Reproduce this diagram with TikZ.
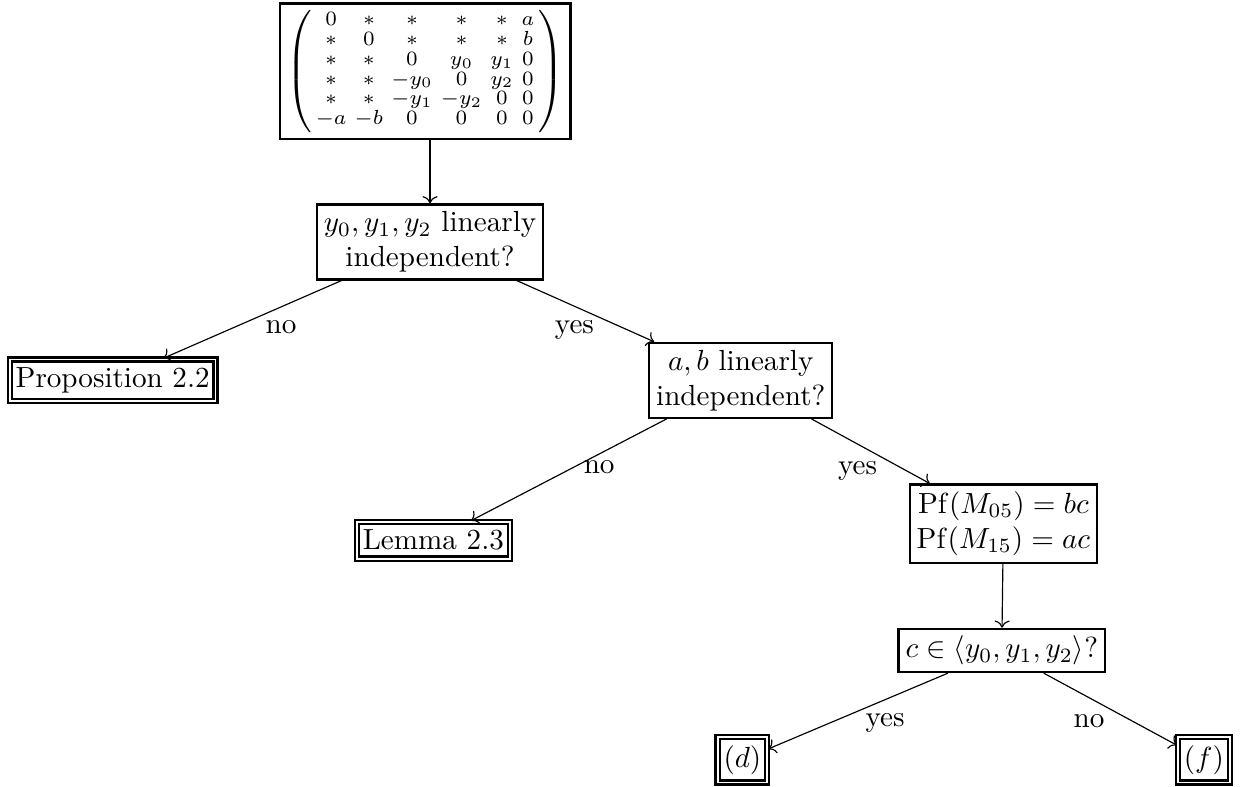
\documentclass[tikz,border=0pt]{standalone}
\usepackage{amsmath, amssymb}
\usetikzlibrary{arrows.meta, positioning}

\tikzset{
  qbox/.style={draw, thick, align=center, inner sep=2.4pt},
  endbox/.style={draw, thick, double, double distance=0.6pt, inner xsep=2pt, inner ysep=2.8pt},
  branch/.style={->},
  lab/.style={below, inner sep=2pt, yshift=-2.5pt},
}

\begin{document}
\begin{tikzpicture}
  \useasboundingbox (0, 0) rectangle (15.05, -9.49);

  % starting matrix
  \node[qbox, inner sep=2.2pt, anchor=north] (mat) at (5.13, -0.03) {%
    $\left(\vcenter{\hbox{\scriptsize
      \renewcommand{\arraystretch}{0.85}\setlength{\arraycolsep}{1.4pt}%
      $\begin{array}{cccccc}
        0 & * & * & * & * & a\\
        * & 0 & * & * & * & b\\
        * & * & 0 & y_0 & y_1 & 0\\
        * & * & -y_0 & 0 & y_2 & 0\\
        * & * & -y_1 & -y_2 & 0 & 0\\
        -a & -b & 0 & 0 & 0 & 0
      \end{array}$}}\right)$%
  };

  % questions
  \node[qbox] (q1) at (5.19, -2.92) {$y_0, y_1, y_2$ linearly\\independent?};
  \node[qbox] (q2) at (8.94, -4.59) {$a, b$ linearly\\independent?};
  \node[qbox] (pf) at (12.11, -6.32) {$\mathrm{Pf}(M_{05}) = bc$\\$\mathrm{Pf}(M_{15}) = ac$};
  \node[qbox] (q3) at (12.09, -7.85) {$c \in \langle y_0, y_1, y_2\rangle$?};

  % leaves
  \node[endbox] (prop) at (1.36, -4.59) {Proposition 2.2};
  \node[endbox] (lem) at (5.23, -6.52) {Lemma 2.3};
  \node[endbox] (cased) at (8.96, -9.17) {$(d)$};
  \node[endbox] (casef) at (14.53, -9.17) {$(f)$};

  % branches
  \draw[branch] (q1 |- mat.south) -- (q1);
  \draw[branch] (q1) -- node[lab, pos=0.34] {no} (prop);
  \draw[branch] (q1) -- node[lab, pos=0.42, yshift=-0.3pt] {yes} (q2);
  \draw[branch] (q2) -- node[lab, pos=0.345, yshift=2.5pt] {no} (lem);
  \draw[branch] (q2) -- node[lab, pos=0.39, yshift=-1.3pt] {yes} (pf);
  \draw[branch] (pf) -- (q3);
  \draw[branch] (q3) -- node[lab, pos=0.35] {yes} (cased);
  \draw[branch] (q3) -- node[lab, pos=0.34, yshift=-1pt] {no} (casef);
\end{tikzpicture}
\end{document}
